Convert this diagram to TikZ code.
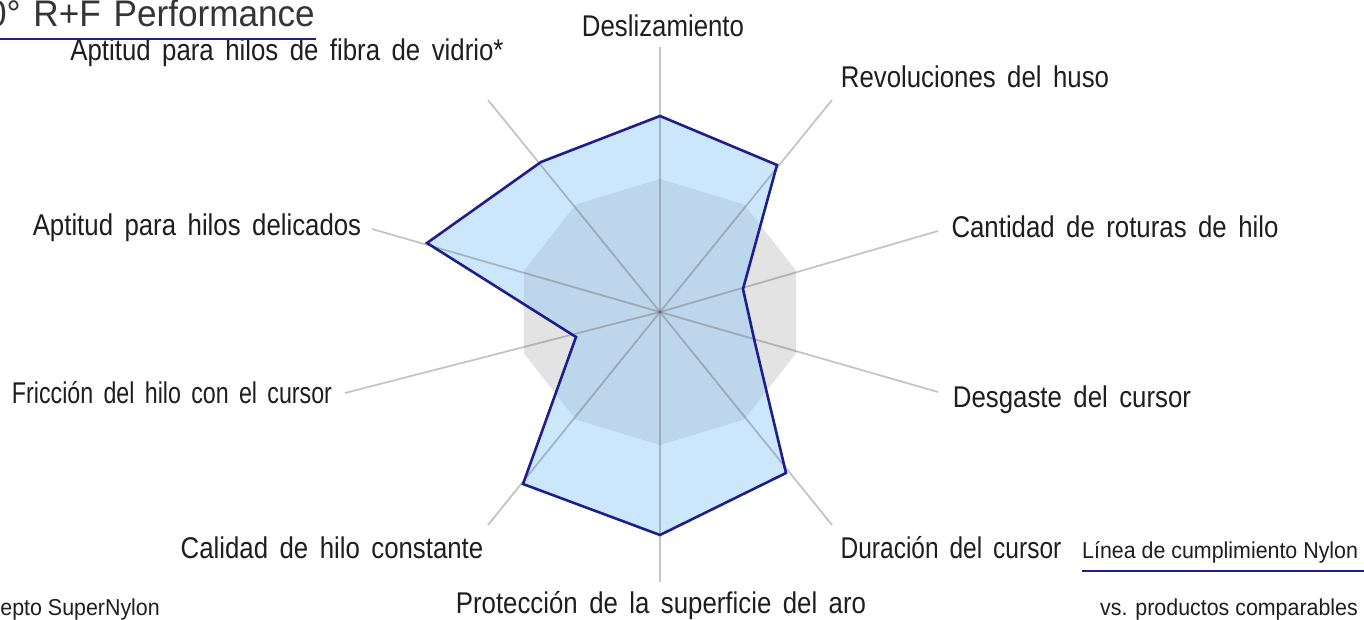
\documentclass[tikz,border=0pt]{standalone}
\usepackage{fontspec}
\setmainfont{Liberation Sans}[FakeStretch=0.86, WordSpace=1.6]
\newfontfamily\smallfnt{Liberation Sans}[FakeStretch=0.93]
\newfontfamily\titlefnt{Liberation Sans}[FakeStretch=0.95, WordSpace=1.3]
\definecolor{txt}{RGB}{30,30,30}
\definecolor{navy}{RGB}{30,30,140}
\definecolor{decgray}{RGB}{227,227,227}
\definecolor{radarblue}{RGB}{139,199,246}
\definecolor{axisgray}{RGB}{90,90,90}
\tikzset{
  lbl/.style={text=txt, inner sep=0pt, anchor=base, font=\fontsize{30}{36}\selectfont},
  smalllbl/.style={text=txt, inner sep=0pt, font=\smallfnt\fontsize{23}{28}\selectfont},
  titlelbl/.style={text=txt!90, inner sep=0pt, anchor=base east, font=\titlefnt\fontsize{37}{42}\selectfont},
  axisline/.style={draw=axisgray, draw opacity=0.35, line width=1.8pt},
  radarfill/.style={fill=radarblue, fill opacity=0.43},
  radarline/.style={draw=navy, line width=2.6pt, line join=miter},
  uline/.style={draw=navy, line width=2.4pt}
}
\begin{document}
\begin{tikzpicture}[x=1pt,y=-1pt]
\useasboundingbox (0,0) rectangle (1364,620);
\clip (0,0) rectangle (1364,620);
\fill[white] (0,0) rectangle (1364,620);
% centre
\coordinate (c) at (660,312);
% gray decagon
\foreach \a [count=\i] in {90,54,18,-18,-54,-90,-126,-162,162,126}
  \coordinate (g\i) at ({660+143.2*cos(\a)},{312-133*sin(\a)});
\fill[decgray] (g1) -- (g2) -- (g3) -- (g4) -- (g5) -- (g6) -- (g7) -- (g8) -- (g9) -- (g10) -- cycle;
% radar values
\coordinate (p1) at (660,116);
\coordinate (p2) at (777,165);
\coordinate (p3) at (743,289);
\coordinate (p4) at (755,343);
\coordinate (p5) at (786,473);
\coordinate (p6) at (660,535);
\coordinate (p7) at (523,484);
\coordinate (p8) at (576,337);
\coordinate (p9) at (427,243);
\coordinate (p10) at (541,162);
\fill[radarfill] (p1) -- (p2) -- (p3) -- (p4) -- (p5) -- (p6) -- (p7) -- (p8) -- (p9) -- (p10) -- cycle;
% axis ends
\coordinate (a1) at (660,47);
\coordinate (a2) at (832,100);
\coordinate (a3) at (938,231);
\coordinate (a4) at (938,392);
\coordinate (a5) at (832,525);
\coordinate (a6) at (660,582);
\coordinate (a7) at (488,525);
\coordinate (a8) at (345,393);
\coordinate (a9) at (372,229);
\coordinate (a10) at (488,100);
\foreach \i in {1,...,10} \draw[axisline] (c) -- (a\i);
\draw[radarline] (p1) -- (p2) -- (p3) -- (p4) -- (p5) -- (p6) -- (p7) -- (p8) -- (p9) -- (p10) -- cycle;
% labels
\node[lbl] (l1) at (663,37) {Deslizamiento};
\node[lbl] (l2) at (975,88) {Revoluciones del huso};
\node[lbl] (l3) at (1115,237) {Cantidad de roturas de hilo};
\node[lbl] (l4) at (1072,407) {Desgaste del cursor};
\node[lbl] (l5) at (951,558) {\scalebox{0.95}[1]{Duración del cursor}};
\node[lbl] (l6) at (661,613) {Protección de la superficie del aro};
\node[lbl] (l7) at (332,558) {Calidad de hilo constante};
\node[lbl] (l8) at (172,403) {\scalebox{0.9}[1]{Fricción del hilo con el cursor}};
\node[lbl] (l9) at (197,236) {Aptitud para hilos delicados};
\node[lbl] (l10) at (287,61) {Aptitud para hilos de fibra de vidrio*};
% title
\node[titlelbl] (title) at (315,27) {0° R+F Performance};
\coordinate (t0) at (0,39);
\coordinate (t1) at (316,39);
\draw[uline] (t0) -- (t1);
% legend
\node[smalllbl, anchor=base west] (leg1) at (1082,558) {Línea de cumplimiento Nylon};
\coordinate (u0) at (1082,571);
\coordinate (u1) at (1364,571);
\draw[uline] (u0) -- (u1);
\node[smalllbl, anchor=base east] (leg2) at (1358,615) {vs. productos comparables};
\node[smalllbl, anchor=base east] (leg3) at (160,615) {Concepto SuperNylon};
\end{tikzpicture}
\end{document}
